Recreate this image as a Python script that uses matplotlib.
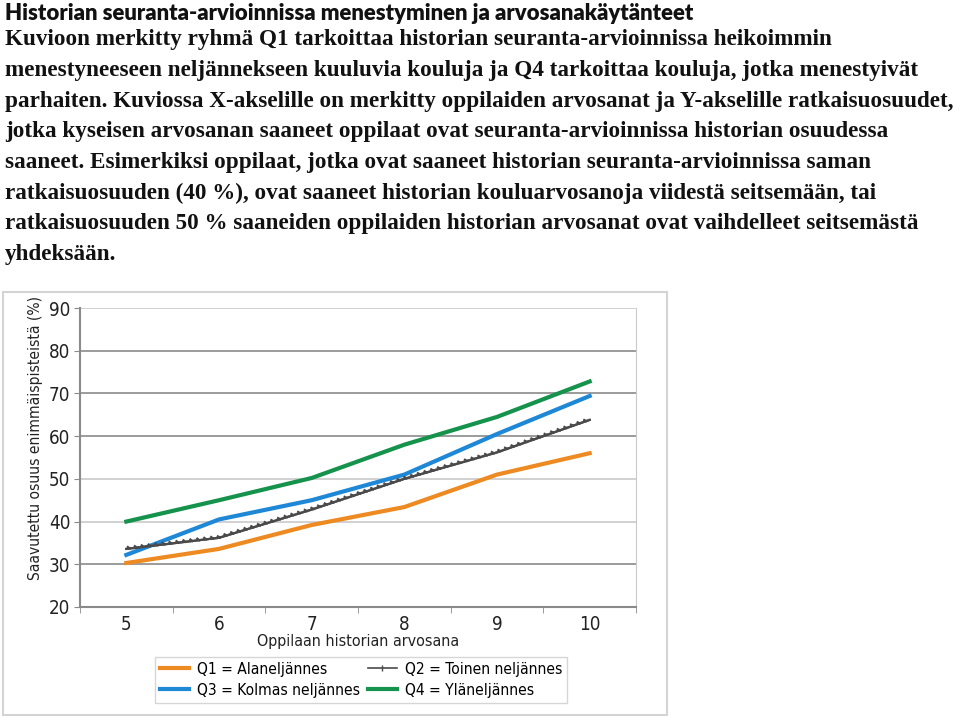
import numpy as np
import matplotlib.pyplot as plt
import matplotlib.patheffects as pe
from matplotlib.patches import Rectangle
from matplotlib.lines import Line2D

grades = [5, 6, 7, 8, 9, 10]
q1 = [30.3, 33.6, 39.2, 43.4, 51.0, 56.0]
q2 = [33.6, 36.2, 42.8, 50.0, 56.2, 63.8]
q3 = [32.2, 40.5, 45.0, 51.0, 60.5, 69.4]
q4 = [40.0, 45.0, 50.2, 58.0, 64.5, 72.8]

labels = ["Q1 = Alaneljännes", "Q2 = Toinen neljännes",
          "Q3 = Kolmas neljännes", "Q4 = Yläneljännes"]
colors = ["#ee8a22", "#4a4a4a", "#1f88d6", "#15924c"]

title = "Historian seuranta-arvioinnissa menestyminen ja arvosanakäytänteet"
body = [
    "Kuvioon merkitty ryhmä Q1 tarkoittaa historian seuranta-arvioinnissa heikoimmin",
    "menestyneeseen neljännekseen kuuluvia kouluja ja Q4 tarkoittaa kouluja, jotka menestyivät",
    "parhaiten. Kuviossa X-akselille on merkitty oppilaiden arvosanat ja Y-akselille ratkaisuosuudet,",
    "jotka kyseisen arvosanan saaneet oppilaat ovat seuranta-arvioinnissa historian osuudessa",
    "saaneet. Esimerkiksi oppilaat, jotka ovat saaneet historian seuranta-arvioinnissa saman",
    "ratkaisuosuuden (40 %), ovat saaneet historian kouluarvosanoja viidestä seitsemään, tai",
    "ratkaisuosuuden 50 % saaneiden oppilaiden historian arvosanat ovat vaihdelleet seitsemästä",
    "yhdeksään.",
]

plt.rcParams["font.family"] = ["DejaVu Sans"]
plt.rcParams["font.stretch"] = "condensed"

W, H = 960, 716
fig = plt.figure(figsize=(W / 100, H / 100), dpi=100)

# header text
fig.text(5 / W, 1 - 13 / H, title, family=["Lato", "DejaVu Sans"], weight="heavy",
         fontsize=15.9, va="center", ha="left", color="#111111", stretch="normal")
for i, line in enumerate(body):
    fig.text(5 / W, 1 - (40 + i * 30.6) / H, line, family=["Liberation Serif"],
             weight="bold", fontsize=16.7, va="center", ha="left", color="#111111",
             stretch="normal")

# chart frame
fig.patches.append(Rectangle((3 / W, 1 - 715 / H), 664 / W, 423 / H,
                             transform=fig.transFigure, fill=False,
                             edgecolor="#d4d4d4", linewidth=1.5))

ax = fig.add_axes([80 / W, 1 - 607 / H, 556 / W, 299 / H])
ax.set_xlim(4.5, 10.5)
ax.set_ylim(20, 90)

for v in range(30, 91, 10):
    c = "#c9c9c9" if v in (40, 50, 90) else "#8a8a8a"
    ax.axhline(v, color=c, linewidth=1.2, zorder=1)

ax.plot(grades, q1, color=colors[0], linewidth=3, zorder=3)
ax.plot(grades, q3, color=colors[2], linewidth=3, zorder=3)
ax.plot(grades, q4, color=colors[3], linewidth=3, zorder=3)
ax.plot(grades, q2, color=colors[1], linewidth=1.6, zorder=4,
        path_effects=[pe.Stroke(linewidth=1.6, foreground=colors[1]),
                      pe.withTickedStroke(angle=135, spacing=5, length=0.35)])

ax.spines["top"].set_visible(False)
ax.spines["right"].set_color("#c9c9c9")
ax.spines["left"].set_color("#8a8a8a")
ax.spines["bottom"].set_color("#8a8a8a")
ax.spines["left"].set_linewidth(1.5)
ax.spines["bottom"].set_linewidth(1.5)

ax.set_xticks(grades)
ax.set_xticks(np.arange(4.5, 10.6, 1), minor=True)
ax.tick_params(axis="x", which="major", length=0, pad=6, labelsize=13.5, colors="#222222")
ax.tick_params(axis="x", which="minor", length=4, color="#8a8a8a", direction="out")
ax.set_yticks(np.arange(20, 91, 10))
ax.tick_params(axis="y", length=4, color="#8a8a8a", pad=3, labelsize=13.5, labelcolor="#222222")

ax.set_xlabel("Oppilaan historian arvosana", fontsize=11.5, color="#222222", labelpad=0)
fig.text(36 / W, 1 - 438 / H, "Saavutettu osuus enimmäispisteistä (%)", rotation=90,
         fontsize=11.2, color="#222222", ha="center", va="center")

handles = [
    Line2D([], [], color=colors[0], linewidth=3),
    Line2D([], [], color=colors[2], linewidth=3),
    Line2D([], [], color=colors[1], linewidth=1.2, marker="|", markersize=4,
           markevery=[0, 1]),
    Line2D([], [], color=colors[3], linewidth=3),
]
leg = ax.legend(handles, [labels[0], labels[2], labels[1], labels[3]], ncol=2,
                loc="upper center", bbox_to_anchor=(361 / W, 1 - 657 / H),
                bbox_transform=fig.transFigure, fontsize=11.2, frameon=True,
                fancybox=False, edgecolor="#cccccc", handlelength=1.9,
                handletextpad=0.5, columnspacing=0.5, labelspacing=0.4,
                borderpad=0.3, borderaxespad=0)
leg.get_frame().set_linewidth(1.0)

fig.savefig("out.png", dpi=100)
